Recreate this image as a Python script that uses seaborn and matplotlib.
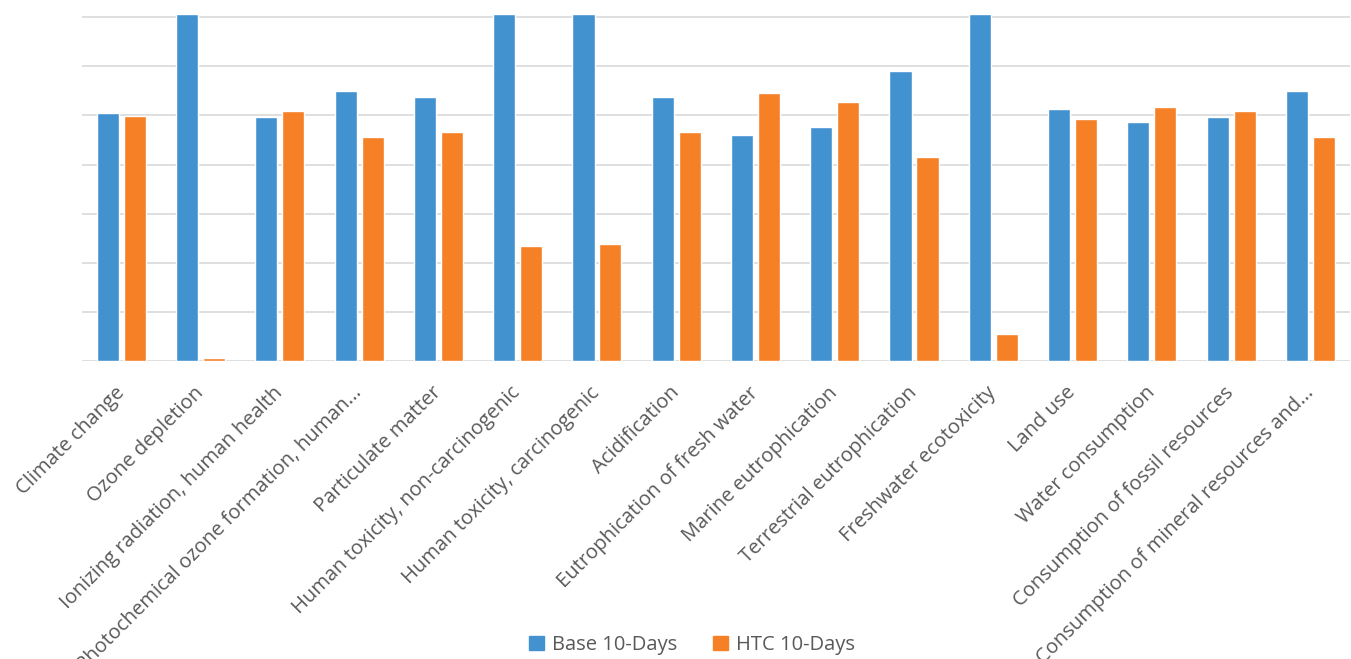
import matplotlib
matplotlib.use("Agg")
import matplotlib.pyplot as plt
import seaborn as sns
import pandas as pd

categories = [
    "Climate change",
    "Ozone depletion",
    "Ionizing radiation, human health",
    "Photochemical ozone formation, human...",
    "Particulate matter",
    "Human toxicity, non-carcinogenic",
    "Human toxicity, carcinogenic",
    "Acidification",
    "Eutrophication of fresh water",
    "Marine eutrophication",
    "Terrestrial eutrophication",
    "Freshwater ecotoxicity",
    "Land use",
    "Water consumption",
    "Consumption of fossil resources",
    "Consumption of mineral resources and...",
]
series_names = ["Base 10-Days", "HTC 10-Days"]
base_10_days = [100.9, 141.2, 99.3, 110.1, 107.5, 141.2, 141.2, 107.4,
                91.9, 95.2, 118.1, 141.2, 102.6, 97.5, 99.3, 110.0]
htc_10_days = [99.9, 1.3, 101.8, 91.1, 93.4, 46.8, 47.5, 93.4,
               109.0, 105.6, 83.0, 11.0, 98.4, 103.3, 101.8, 91.1]
y_ticks = [0, 20, 40, 60, 80, 100, 120, 140]

df = pd.DataFrame({
    "category": categories * 2,
    "series": [series_names[0]] * len(categories) + [series_names[1]] * len(categories),
    "value": base_10_days + htc_10_days,
})

sns.set_theme(style="white")
plt.rcParams["font.family"] = ["Open Sans", "DejaVu Sans"]

fig = plt.figure(figsize=(13.51, 6.59), dpi=100)
ax = fig.add_axes([81.7 / 1351, 1 - 361 / 659, (1350 - 81.7) / 1351, (361 - 14.3) / 659])

palette = {series_names[0]: "#4392d0", series_names[1]: "#f58025"}
sns.barplot(data=df, x="category", y="value", hue="series", order=categories,
            hue_order=series_names, palette=palette, width=0.68, gap=0.18,
            saturation=1, ax=ax, legend=True, zorder=3)

ax.set_ylim(0, 141.2)
ax.set_xlim(-0.5, len(categories) - 0.5)
ax.set_yticks(y_ticks)
ax.set_yticklabels([])
ax.yaxis.grid(True, color="#d9d9d9", linewidth=1.2, zorder=0)
ax.set_axisbelow(True)
for s in ax.spines.values():
    s.set_visible(False)
ax.tick_params(axis="both", length=0)
ax.set_xlabel("")
ax.set_ylabel("")

ax.set_xticks(range(len(categories)))
ax.set_xticklabels(categories, rotation=45, ha="right", rotation_mode="anchor",
                   fontsize=14.5, color="#595959")
for lbl in ax.get_xticklabels():
    lbl.set_transform(lbl.get_transform() + matplotlib.transforms.ScaledTranslation(
        -0.07, -0.17, fig.dpi_scale_trans))

ax.get_legend().remove()
handles = [matplotlib.patches.Patch(color=palette[n]) for n in series_names]
fig.legend(handles, series_names, loc="center", bbox_to_anchor=(692 / 1351, 1 - 645 / 659),
           ncol=2, frameon=False, fontsize=14.5, handlelength=0.75, handleheight=0.75,
           handletextpad=0.4, columnspacing=1.8, labelcolor="#595959")

fig.savefig("out.png", dpi=100, facecolor="white")
